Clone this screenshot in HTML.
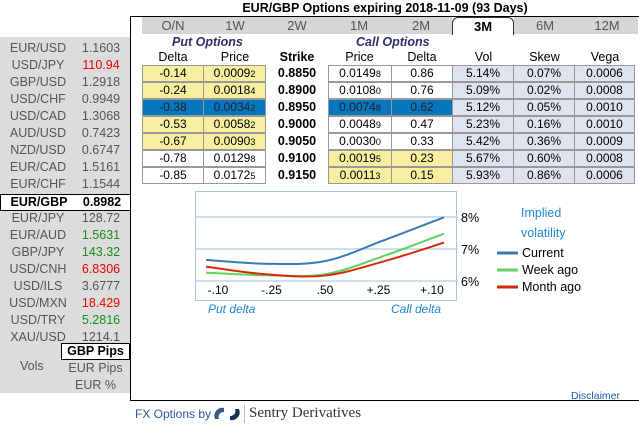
<!DOCTYPE html>
<html><head><meta charset="utf-8"><style>
*{box-sizing:border-box;margin:0;padding:0}
body{width:639px;height:425px;background:#fff;font-family:"Liberation Sans",sans-serif;font-size:12px;color:#000;position:relative;overflow:hidden}
.a{position:absolute}
#left{left:0;top:37px;width:130px;height:356px;background:#dcdcdc}
.pr{position:absolute;left:0;width:130px;height:17px;font-size:12.5px;color:#555}
.pr .n{position:absolute;left:8px;width:60px;text-align:center}
.pr .v{position:absolute;left:76px;width:50px;text-align:center}
#frame{left:130px;top:16px;width:515px;height:385px;border:1.5px solid #000}
.tab{position:absolute;top:17px;height:17px;background:#d6d6d6;color:#555;font-size:13px;text-align:center;line-height:17px}
.cell{position:absolute;height:17px;border:1.5px solid #999;text-align:center;line-height:14px;font-size:12px}
.y{background:#f7ef9f}.w{background:#fff}.b{background:#0577bf;color:#222}.g{background:#dde4ef}
.hd{position:absolute;font-size:12.5px;text-align:center}
</style></head><body>
<div class="a" style="left:220px;top:1px;width:330px;text-align:center;font-weight:bold;font-size:12.5px;white-space:nowrap">EUR/GBP Options expiring 2018-11-09 (93 Days)</div>
<div class="a" id="left"></div>
<div class="a" id="frame"></div>
<div class="a" style="left:142px;top:33px;width:496px;height:1px;background:#333"></div>
<div id="tabs"></div>
<div id="rows"></div>
<div class="a" style="left:172px;top:35px;font-weight:bold;font-style:italic;color:#2b2f6b;font-size:12.5px">Put Options</div>
<div class="a" style="left:356px;top:35px;font-weight:bold;font-style:italic;color:#2b2f6b;font-size:12.5px">Call Options</div>
<div class="hd" style="left:142px;top:50px;width:62px">Delta</div>
<div class="hd" style="left:204px;top:50px;width:62px">Price</div>
<div class="hd" style="left:266px;top:50px;width:62px;font-weight:bold">Strike</div>
<div class="hd" style="left:328px;top:50px;width:63px">Price</div>
<div class="hd" style="left:391px;top:50px;width:62px">Delta</div>
<div class="hd" style="left:453px;top:50px;width:61px">Vol</div>
<div class="hd" style="left:514px;top:50px;width:61px">Skew</div>
<div class="hd" style="left:575px;top:50px;width:60px">Vega</div>
<svg class="a" style="left:0;top:0" width="639" height="425" id="chart"></svg>
<div class="a" style="left:20px;top:359px;color:#555;font-size:12.5px">Vols</div>
<div class="a" style="left:61px;top:343px;width:69px;height:17px;background:#fff;border:1px solid #000;font-weight:bold;text-align:center;line-height:15px;font-size:12.5px">GBP Pips</div>
<div class="a" style="left:61px;top:361px;width:69px;text-align:center;color:#555;font-size:12.5px">EUR Pips</div>
<div class="a" style="left:61px;top:378px;width:69px;text-align:center;color:#555;font-size:12.5px">EUR %</div>
<div class="a" style="left:571px;top:390px;font-size:10.5px;color:#1a5fa8">Disclaimer</div>
<div class="a" style="left:135px;top:407px;font-size:12px;color:#2a5599">FX Options by</div>
<svg class="a" style="left:212px;top:405px" width="30" height="18"><path d="M3 14 A8 8 0 0 1 12 3 L12 7 A5 5 0 0 0 7 14Z" fill="#3a5a8a"/><path d="M27 4 A8 8 0 0 1 18 15 L18 11 A5 5 0 0 0 23 4Z" fill="#1c2f55"/></svg>
<div class="a" style="left:244px;top:405px;width:1px;height:18px;background:#bbb"></div>
<div class="a" style="left:249px;top:405px;font-family:'Liberation Serif',serif;font-size:15px;color:#333">Sentry Derivatives</div>
<script>
const pairs=["EUR/USD","USD/JPY","GBP/USD","USD/CHF","USD/CAD","AUD/USD","NZD/USD","EUR/CAD","EUR/CHF","EUR/GBP","EUR/JPY","EUR/AUD","GBP/JPY","USD/CNH","USD/ILS","USD/MXN","USD/TRY","XAU/USD"];
const rates=["1.1603","110.94","1.2918","0.9949","1.3068","0.7423","0.6747","1.5161","1.1544","0.8982","128.72","1.5631","143.32","6.8306","3.6777","18.429","5.2816","1214.1"];
const rateColors=["","#e00","","","","","","","","","","#1a8a1a","#1a8a1a","#e00","","#e00","#1a8a1a",""];
const left=document.getElementById('left');
pairs.forEach((p,i)=>{const d=document.createElement('div');d.className='pr';d.style.top=(4+i*17)+'px';


if(p==="EUR/GBP"){d.style.background='#fff';d.style.border='1.5px solid #000';d.style.color='#000';d.style.fontWeight='bold';d.style.width='131px';}
d.innerHTML='<span class="n">'+p+'</span><span class="v" style="color:'+(rateColors[i]||'inherit')+'">'+rates[i]+'</span>';left.appendChild(d);});
const tabs=["O/N","1W","2W","1M","2M","3M","6M","12M"];
const tb=document.getElementById('tabs');
tabs.forEach((t,i)=>{const d=document.createElement('div');d.className='tab';d.style.left=(142+i*62)+'px';d.style.width='62px';d.textContent=t;


if(t==="3M"){d.style.background='#fff';d.style.color='#000';d.style.fontWeight='bold';d.style.border='1px solid #333';d.style.borderBottom='none';d.style.borderRadius='6px 6px 0 0';d.style.height='18px';d.style.zIndex=2;}
tb.appendChild(d);});
const putDelta=["-0.14","-0.24","-0.38","-0.53","-0.67","-0.78","-0.85"];
const putPrice=["0.0009<small>2</small>","0.0018<small>4</small>","0.0034<small>2</small>","0.0058<small>2</small>","0.0090<small>3</small>","0.0129<small>8</small>","0.0172<small>5</small>"];
const strikes=["0.8850","0.8900","0.8950","0.9000","0.9050","0.9100","0.9150"];
const callPrice=["0.0149<small>8</small>","0.0108<small>0</small>","0.0074<small>8</small>","0.0048<small>9</small>","0.0030<small>0</small>","0.0019<small>5</small>","0.0011<small>3</small>"];
const callDelta=["0.86","0.76","0.62","0.47","0.33","0.23","0.15"];
const vols=["5.14%","5.09%","5.12%","5.23%","5.42%","5.67%","5.93%"];
const skews=["0.07%","0.02%","0.05%","0.16%","0.36%","0.60%","0.86%"];
const vegas=["0.0006","0.0008","0.0010","0.0010","0.0009","0.0008","0.0006"];
const putCls=["y","y","b","y","y","w","w"],callCls=["w","w","b","w","w","y","y"];
const rows=document.getElementById('rows');
function cell(x,w,y,cls,html,name){const d=document.createElement('div');d.className='cell '+cls;d.style.left=x+'px';d.style.width=w+'px';d.style.top=y+'px';d.innerHTML=html;


rows.appendChild(d);}
strikes.forEach((s,i)=>{const y=65+i*17;
cell(142,62,y,putCls[i],putDelta[i],'put-delta-'+i);
cell(203,63,y,putCls[i],putPrice[i],'put-price-'+i);
const st=document.createElement('div');st.className='a';st.style.cssText='left:266px;width:62px;text-align:center;font-weight:bold;font-size:12.5px;top:'+(y+1)+'px';st.textContent=s;


rows.appendChild(st);
cell(328,64,y,callCls[i],callPrice[i],'call-price-'+i);
cell(391,62,y,callCls[i],callDelta[i],'call-delta-'+i);
cell(452,62,y,'g',vols[i],'vol-'+i);
cell(513,62,y,'g',skews[i],'skew-'+i);
cell(574,61,y,'g',vegas[i],'vega-'+i);});
document.querySelectorAll('small').forEach(s=>{s.style.fontSize='9px'});
// chart
const xLabels=["-.10","-.25",".50","+.25","+.10"];
const yTicks=[6,7,8];
const current=[6.66,6.54,6.62,7.28,7.99];
const weekAgo=[6.26,6.18,6.21,6.79,7.48];
const monthAgo=[6.45,6.21,6.17,6.62,7.20];
const NS='http://www.w3.org/2000/svg',svg=document.getElementById('chart');
const X=i=>206+i*59.5, Y=v=>281-(v-6)*32, XL=i=>218+i*53.5;
function el(t,a,name){const e=document.createElementNS(NS,t);for(const k in a)e.setAttribute(k,a[k]);


svg.appendChild(e);return e;}
el('rect',{x:195.5,y:191.5,width:261,height:109,fill:'#fff',stroke:'#a9c6e6','stroke-width':1},'chart-box');
yTicks.forEach(t=>{el('line',{x1:196,x2:458,y1:Y(t),y2:Y(t),stroke:'#bcd3ea','stroke-width':1.5},'gridline-'+t);
const tx=el('text',{x:461,y:Y(t)+5,'font-size':12.5,'font-family':'Liberation Sans'},'y-tick-'+t);tx.textContent=t+'%';});
xLabels.forEach((l,i)=>{const tx=el('text',{x:XL(i),y:294,'font-size':12,'text-anchor':'middle','font-family':'Liberation Sans'},'x-tick-'+i);tx.textContent=l;});
function path(d){const p=d.map((v,i)=>[X(i),Y(v)]);let s='M'+p[0][0]+','+p[0][1];
for(let i=0;i<p.length-1;i++){const p0=p[i-1]||p[i],p1=p[i],p2=p[i+1],p3=p[i+2]||p2;
s+=' C'+(p1[0]+(p2[0]-p0[0])/6)+','+(p1[1]+(p2[1]-p0[1])/6)+' '+(p2[0]-(p3[0]-p1[0])/6)+','+(p2[1]-(p3[1]-p1[1])/6)+' '+p2[0]+','+p2[1];}return s;}
el('path',{d:path(weekAgo),fill:'none',stroke:'#5fd35f','stroke-width':2},'week-ago-line');
el('path',{d:path(monthAgo),fill:'none',stroke:'#d52a0a','stroke-width':2},'month-ago-line');
el('path',{d:path(current),fill:'none',stroke:'#3a78b5','stroke-width':2},'current-line');
[['Implied',521,217],['volatility',521,237]].forEach((t,i)=>{const tx=el('text',{x:t[1],y:t[2],'font-size':12.5,fill:'#1e88d0','font-family':'Liberation Sans'},'legend-title-'+i);tx.textContent=t[0];});
[['Current','#3a78b5',257],['Week ago','#5fd35f',274],['Month ago','#d52a0a',291]].forEach((l,i)=>{el('line',{x1:497,x2:518,y1:l[2]-4,y2:l[2]-4,stroke:l[1],'stroke-width':3},'legend-swatch-'+i);
const tx=el('text',{x:522,y:l[2],'font-size':12.5,'font-family':'Liberation Sans'},'legend-entry-'+i);tx.textContent=l[0];});
[['Put delta',208],['Call delta',391]].forEach((t,i)=>{const tx=el('text',{x:t[1],y:313,'font-size':12,'font-style':'italic',fill:'#1e88d0','font-family':'Liberation Sans'},'axis-caption-'+i);tx.textContent=t[0];});
</script>
</body></html>
